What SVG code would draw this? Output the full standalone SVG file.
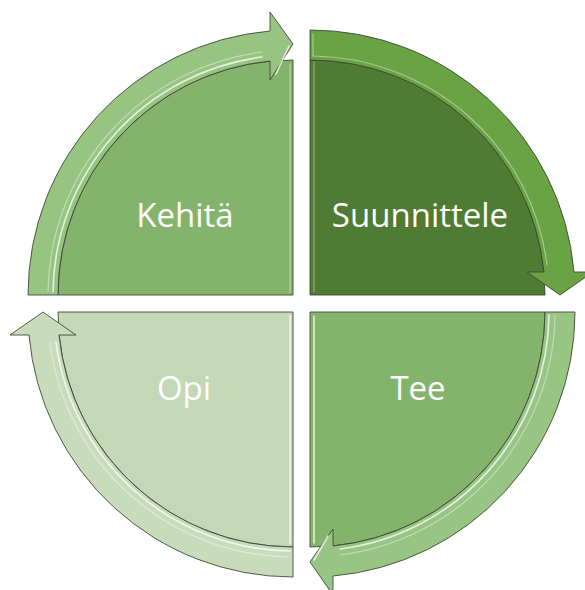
<svg xmlns="http://www.w3.org/2000/svg" width="585" height="590" viewBox="0 0 585 590">
  <style>
    .edge { stroke: #3f4a38; stroke-width: 0.9; stroke-linejoin: miter; }
    .hl { fill: none; stroke: #ffffff; stroke-width: 1.6; stroke-opacity: 0.75; stroke-linecap: round; }
    .hl2 { fill: none; stroke: #ffffff; stroke-width: 1.2; stroke-opacity: 0.4; stroke-linecap: round; }
    .label { font-family: "Open Sans", "Liberation Sans", sans-serif; font-size: 33px; fill: #ffffff; text-anchor: middle; }
  </style>
  <rect width="585" height="590" fill="#ffffff"/>

  <g id="kehita">
    <path class="edge" d="M 293,295 L 58,295 A 235 235 0 0 1 293,60 Z" fill="#84b46b"/>
    <path class="hl2" d="M 290,64 L 290,292"/>
    <text class="label" x="185" y="227">Kehitä</text>
  </g>

  <g id="suunnittele">
    <path class="edge" d="M 310,295 L 310,60 A 235 235 0 0 1 545,295 Z" fill="#4f7c32"/>
    <path class="hl2" d="M 314,62 L 314,292"/>
    <text class="label" x="420" y="227">Suunnittele</text>
  </g>

  <g id="tee">
    <path class="edge" d="M 310,312 L 545,312 A 235 235 0 0 1 310,547 Z" fill="#84b46b"/>
    <path class="hl" d="M 314,316 L 314,543"/>
    <text class="label" x="418" y="400">Tee</text>
  </g>

  <g id="opi">
    <path class="edge" d="M 293,312 L 293,547 A 235 235 0 0 1 58,312 Z" fill="#c3d8b6"/>
    <path class="hl" d="M 290,316 L 290,543"/>
    <text class="label" x="184" y="400">Opi</text>
  </g>

  <g id="connectors">
    <g id="arrow-kehita-suunnittele">
      <path class="edge" d="M 28,295 A 265 265 0 0 1 270,31 L 270,12 L 293,44 L 270,80 L 270,61 A 235 235 0 0 0 58,295 Z" fill="#98c482"/>
      <path class="hl" d="M 53,292 A 240 240 0 0 1 262,57"/>
      <path class="hl2" d="M 48,292 A 245 245 0 0 1 262,52"/>
      <path class="hl" d="M 276,74 L 289,46"/>
    </g>
    <g id="arrow-suunnittele-tee">
      <path class="edge" d="M 310,30 A 265 265 0 0 1 574,272 L 593,272 L 560,295 L 527,272 L 544,272 A 235 235 0 0 0 310,60 Z" fill="#69a343"/>
      <path class="hl2" d="M 313,56 A 239 239 0 0 1 547,265"/>
      <path class="hl2" d="M 313,34 L 313,56"/>
    </g>
    <g id="arrow-tee-opi">
      <path class="edge" d="M 575,312 A 265 265 0 0 1 333,576 L 333,595 L 310,562 L 333,529 L 333,546 A 235 235 0 0 0 545,312 Z" fill="#99c584"/>
      <path class="hl" d="M 549,315 A 239 239 0 0 1 340,549"/>
      <path class="hl2" d="M 555,315 A 245 245 0 0 1 340,555"/>
      <path class="hl" d="M 328,536 L 314,560"/>
    </g>
    <g id="arrow-opi-kehita">
      <path class="edge" d="M 293,577 A 265 265 0 0 1 29,335 L 10,335 L 43,312 L 76,335 L 59,335 A 235 235 0 0 0 293,547 Z" fill="#c8dcbc"/>
      <path class="hl" d="M 290,551 A 239 239 0 0 1 56,342"/>
      <path class="hl2" d="M 290,557 A 245 245 0 0 1 50,342"/>
    </g>
  </g>
</svg>
